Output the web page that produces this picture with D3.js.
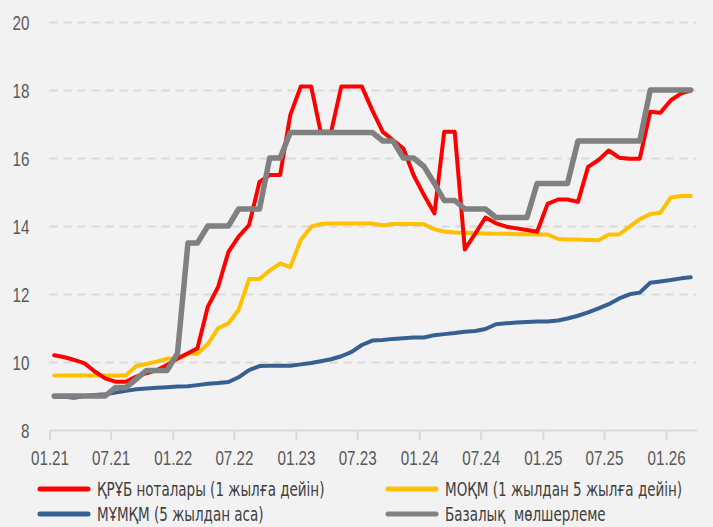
<!DOCTYPE html>
<html>
<head>
<meta charset="utf-8">
<script src="https://cdn.jsdelivr.net/npm/d3@7"></script>
<style>
  html, body { margin: 0; padding: 0; background: #f2f2f2; }
  svg { display: block; font-family: "Liberation Sans Narrow", "DejaVu Sans Condensed", sans-serif; }
</style>
</head>
<body>
<svg id="chart" width="713" height="527"></svg>
<script>
// monthly observations, Jan 2021 .. Mar 2026
const months = [
  '01.21', '02.21', '03.21', '04.21', '05.21', '06.21', '07.21', '08.21', '09.21', '10.21', '11.21', '12.21',
  '01.22', '02.22', '03.22', '04.22', '05.22', '06.22', '07.22', '08.22', '09.22', '10.22', '11.22', '12.22',
  '01.23', '02.23', '03.23', '04.23', '05.23', '06.23', '07.23', '08.23', '09.23', '10.23', '11.23', '12.23',
  '01.24', '02.24', '03.24', '04.24', '05.24', '06.24', '07.24', '08.24', '09.24', '10.24', '11.24', '12.24',
  '01.25', '02.25', '03.25', '04.25', '05.25', '06.25', '07.25', '08.25', '09.25', '10.25', '11.25', '12.25',
  '01.26', '02.26', '03.26'
]

const notes = [ // ҚРҰБ ноталары
  10.2, 10.14, 10.06, 9.96, 9.72, 9.52, 9.42, 9.42, 9.57, 9.67,
  9.76, 9.91, 10.1, 10.26, 10.4, 11.63, 12.2, 13.24, 13.69, 14.03,
  15.3, 15.5, 15.5, 17.26, 18.1, 18.1, 16.77, 16.77, 18.1, 18.1,
  18.1, 17.4, 16.77, 16.53, 16.28, 15.5, 14.91, 14.37, 16.77, 16.77,
  13.31, 13.78, 14.25, 14.08, 13.98, 13.93, 13.88, 13.83, 14.65, 14.78,
  14.78, 14.71, 15.74, 15.94, 16.22, 16.01, 15.98, 15.98, 17.36, 17.33,
  17.7, 17.9, 17.98
]

const mid = [ // МОҚМ (1-5 жыл)
  9.6, 9.6, 9.6, 9.6, 9.6, 9.6, 9.6, 9.6, 9.88, 9.94,
  10.01, 10.1, 10.09, 10.24, 10.24, 10.53, 10.99, 11.14, 11.53, 12.44,
  12.44, 12.69, 12.9, 12.79, 13.59, 13.98, 14.06, 14.07, 14.07, 14.07,
  14.07, 14.07, 14.02, 14.06, 14.06, 14.06, 14.05, 13.9, 13.84, 13.81,
  13.8, 13.79, 13.78, 13.77, 13.77, 13.76, 13.76, 13.75, 13.75, 13.62,
  13.6, 13.6, 13.59, 13.58, 13.75, 13.75, 13.98, 14.2, 14.35, 14.39,
  14.84, 14.88, 14.88
]

const long = [ // МҰМҚМ (5 жылдан аса)
  8.98, 8.98, 8.95, 9.0, 9.03, 9.05, 9.1, 9.15, 9.2, 9.22,
  9.24, 9.26, 9.28, 9.29, 9.32, 9.36, 9.38, 9.41, 9.55, 9.76,
  9.88, 9.89, 9.89, 9.89, 9.93, 9.97, 10.02, 10.08, 10.17, 10.3,
  10.5, 10.63, 10.65, 10.68, 10.7, 10.72, 10.72, 10.79, 10.82, 10.85,
  10.89, 10.91, 10.97, 11.11, 11.14, 11.16, 11.18, 11.19, 11.19, 11.22,
  11.28, 11.36, 11.46, 11.58, 11.7, 11.87, 11.99, 12.04, 12.33, 12.37,
  12.41, 12.46, 12.49
]

const baseRate = [ // Базалық мөлшерлеме
  9, 9, 9, 9, 9, 9, 9.25, 9.25, 9.5, 9.75,
  9.75, 9.75, 10.25, 13.5, 13.5, 14, 14, 14, 14.5, 14.5,
  14.5, 16, 16, 16.75, 16.75, 16.75, 16.75, 16.75, 16.75, 16.75,
  16.75, 16.75, 16.5, 16.5, 16, 16, 15.75, 15.25, 14.75, 14.75,
  14.5, 14.5, 14.5, 14.25, 14.25, 14.25, 14.25, 15.25, 15.25, 15.25,
  15.25, 16.5, 16.5, 16.5, 16.5, 16.5, 16.5, 16.5, 18, 18,
  18, 18, 18
]

const yTicks = [8, 10, 12, 14, 16, 18, 20]

const series = [
  { name: 'МҰМҚМ (5 жылдан аса)', values: long, color: '#366092', width: 4, col: 0, row: 1 },
  { name: 'МОҚМ (1 жылдан 5 жылға дейін)', values: mid, color: '#ffc000', width: 4, col: 1, row: 0 },
  { name: 'ҚРҰБ ноталары (1 жылға дейін)', values: notes, color: '#ff0000', width: 4, col: 0, row: 0 },
  { name: 'Базалық  мөлшерлеме', values: baseRate, color: '#808080', width: 5.5, col: 1, row: 1 }
]

const svg = d3.select('#chart')
const parseMonth = d3.timeParse('%m.%y')
const dates = months.map(m => d3.timeDay.offset(parseMonth(m), 14))

const x = d3.scaleTime()
  .domain([new Date(2021, 0, 1), new Date(2026, 3, 1)])
  .range([49.5, 696.5])

const y = d3.scaleLinear()
  .domain([8, 20])
  .range([430, 22])

// no condensed face like the original's, so squeeze the text horizontally
const axisSqueeze = 0.76
const legendSqueeze = 0.79
const textColor = '#595959'

// y axis with dashed gridlines
const yAxis = svg.append('g')
  .attr('transform', `translate(${x.range()[0]},0)`)
  .call(d3.axisLeft(y)
    .tickValues(yTicks)
    .tickSize(-(x.range()[1] - x.range()[0]))
    .tickPadding(20))

yAxis.select('.domain').remove()
yAxis.selectAll('.tick line')
  .attr('stroke', '#d9d9d9')
  .attr('stroke-width', 2)
  .attr('stroke-dasharray', '8,6')
  .filter(d => d === 8).remove()
yAxis.selectAll('.tick text')
  .attr('x', null)
  .attr('dy', null)
  .attr('transform', `translate(-20,7) scale(${axisSqueeze},1)`)
  .attr('fill', textColor)
  .style('font-size', '20px')

// x axis
const xAxis = svg.append('g')
  .attr('transform', `translate(0,${y(8)})`)
  .call(d3.axisBottom(x)
    .ticks(d3.timeMonth.every(6))
    .tickFormat(d3.timeFormat('%m.%y'))
    .tickSize(10)
    .tickSizeOuter(0))

xAxis.select('.domain').attr('stroke', '#d9d9d9').attr('stroke-width', 2)
xAxis.selectAll('.tick line').attr('stroke', '#d9d9d9').attr('stroke-width', 2)
xAxis.selectAll('.tick text')
  .attr('y', null)
  .attr('dy', null)
  .attr('transform', `translate(0,35) scale(${axisSqueeze},1)`)
  .attr('fill', textColor)
  .style('font-size', '20px')

// lines
const line = d3.line()
  .x((d, i) => x(dates[i]))
  .y(d => y(d))

svg.append('g')
  .selectAll('path')
  .data(series)
  .join('path')
  .attr('d', d => line(d.values))
  .attr('fill', 'none')
  .attr('stroke', d => d.color)
  .attr('stroke-width', d => d.width)
  .attr('stroke-linejoin', 'round')
  .attr('stroke-linecap', 'round')

// legend
const legend = svg.append('g')
  .selectAll('g')
  .data(series)
  .join('g')
  .attr('transform', d => `translate(${d.col ? 388 : 40},${d.row ? 514 : 489})`)

legend.append('line')
  .attr('x1', 0)
  .attr('x2', 48)
  .attr('stroke', d => d.color)
  .attr('stroke-width', 5)
  .attr('stroke-linecap', 'round')

legend.append('text')
  .attr('transform', `translate(57,7) scale(${legendSqueeze},1)`)
  .attr('fill', '#404040')
  .style('font-size', '19px')
  .style('white-space', 'pre')
  .text(d => d.name)
</script>
</body>
</html>
